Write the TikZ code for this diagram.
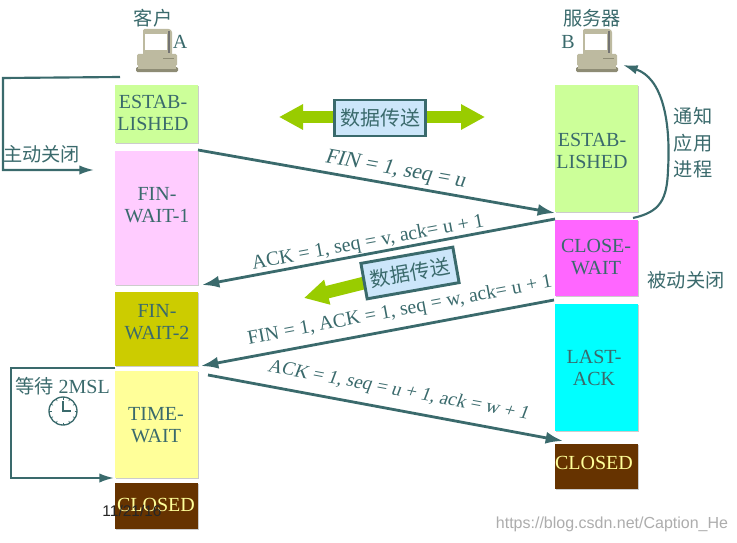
\documentclass[tikz,border=0pt]{standalone}
\usepackage{fontspec}
\setmainfont{Liberation Serif}
\setsansfont{Liberation Sans}
\newfontfamily\cjk{Noto Sans CJK SC}
\newfontfamily\slantfam[FakeSlant=0.18]{Liberation Serif}
\usetikzlibrary{arrows.meta,shadows}
\definecolor{ink}{HTML}{3A6A6C}
\definecolor{grn}{HTML}{99CC00}
\definecolor{estab}{HTML}{CCFF99}
\definecolor{finone}{HTML}{FFCCFF}
\definecolor{fintwo}{HTML}{CCCC00}
\definecolor{twait}{HTML}{FFFF99}
\definecolor{brownbox}{HTML}{663300}
\definecolor{cwait}{HTML}{FF66FF}
\definecolor{lack}{HTML}{00FFFF}
\definecolor{beige}{HTML}{BDBAA0}
\definecolor{beigedark}{HTML}{8E8C75}
\definecolor{paleblue}{HTML}{CCE6FA}
\tikzset{
 statebox/.style={minimum width=62.25pt,inner sep=0pt,drop shadow={shadow xshift=1pt,shadow yshift=-1pt,opacity=.2,fill=black}},
 statetext/.style={inner sep=0pt,align=center,text=ink,font=\fontsize{15}{16.8}\selectfont},
 msg/.style={draw=ink,line width=2.1pt,-{Latex[length=13pt,width=9pt]}},
 bent/.style={draw=ink,line width=1.6pt,-{Latex[length=11pt,width=7pt]}},
 lab/.style={text=ink,inner sep=0pt,font=\fontsize{15}{17}\selectfont},
 cjklab/.style={text=ink,inner sep=0pt,font=\cjk\fontsize{14.4}{18}\selectfont,align=center},
 databox/.style={draw=ink,line width=2.2pt,fill=paleblue,text=ink,inner sep=0pt,minimum width=68pt,minimum height=27pt,font=\cjk\fontsize{15}{17}\selectfont},
 greenarrow/.style={draw=grn,line width=9.5pt,-{Triangle[length=18pt,width=18pt]}},
}
\newcommand{\computer}[2]{%
 \begin{scope}[shift={(#1,#2)}]
  \fill[beige,rounded corners=1pt] (-14,-21)--(13,-21)--(15,-19)--(15,6)--(-14,6)--cycle;
  \fill[white] (-12,-16) rectangle (10,0);
  \draw[black!55,line width=.8pt] (12,-19)--(12,3);
  \fill[beige,rounded corners=1pt] (-20,4) rectangle (20,16);
  \draw[beigedark,line width=.7pt] (6,8)--(17,8);
  \fill[beigedark,rounded corners=1pt] (-21,17) rectangle (21,22);
  \fill[beige] (-19,16) rectangle (19,19);
 \end{scope}}
\begin{document}
\begin{tikzpicture}[x=0.75pt,y=-0.75pt]
\useasboundingbox (0,0) rectangle (737,542);
\fill[white] (0,0) rectangle (737,542);
\computer{157}{50}
\computer{597}{50}
\node[cjklab] (client) at (153,18) {客户};
\node[lab] (a) at (180,42) {A};
\node[cjklab] (server) at (592,18) {服务器};
\node[lab] (b) at (568,42) {B};
% client states
\node[statebox,fill=estab,minimum height=43.5pt] (e1) at (156.5,114) {};
\node[statebox,fill=finone,minimum height=100.5pt] (f1) at (156.5,218) {};
\node[statebox,fill=fintwo,minimum height=55.5pt] (f2) at (156.5,329) {};
\node[statebox,fill=twait,minimum height=80.25pt] (tw) at (156.5,424.5) {};
\node[statebox,fill=brownbox,minimum height=34.5pt] (c1) at (156.5,506) {};
\node[statetext] (e1t) at (153,113) {ESTAB-\\LISHED};
\node[statetext] (f1t) at (157,205) {FIN-\\WAIT-1};
\node[statetext] (f2t) at (157,322) {FIN-\\WAIT-2};
\node[statetext] (twt) at (156,425) {TIME-\\WAIT};
\node[statetext,text=twait] (c1t) at (156,505) {CLOSED};
% server states
\node[statebox,fill=estab,minimum height=95.25pt] (e2) at (596.5,148.5) {};
\node[statebox,fill=cwait,minimum height=57pt] (cw) at (596.5,258) {};
\node[statebox,fill=lack,minimum height=95.25pt] (la) at (596.5,367.5) {};
\node[statebox,fill=brownbox,minimum height=33.75pt] (c2) at (596.5,466.5) {};
\node[statetext] (e2t) at (592,151) {ESTAB-\\LISHED};
\node[statetext] (cwt) at (596,257) {CLOSE-\\WAIT};
\node[statetext] (lat) at (594,368) {LAST-\\ACK};
\node[statetext,text=twait] (c2t) at (594,463) {CLOSED};
% message ends
\coordinate (m1s) at (198,150); \coordinate (m1e) at (555,213);
\coordinate (m2s) at (555,219); \coordinate (m2e) at (202,285);
\coordinate (m3s) at (554,300); \coordinate (m3e) at (201,366);
\coordinate (m4s) at (208,375); \coordinate (m4e) at (563,441);
\draw[msg] (m1s) -- (m1e);
\draw[msg] (m2s) -- (m2e);
\draw[msg] (m3s) -- (m3e);
\draw[msg] (m4s) -- (m4e);
\node[lab,rotate=-10,font=\slantfam\fontsize{16.2}{18}\selectfont] (l1) at (395,170) {FIN = 1, seq = u};
\node[lab,rotate=10.5] (l2) at (368,243) {ACK = 1, seq = v, ack= u + 1};
\node[lab,rotate=10.7,font=\fontsize{14.8}{17}\selectfont] (l3) at (400,311) {FIN = 1, ACK = 1, seq = w, ack= u + 1};
\node[lab,rotate=-10.5,font=\slantfam\fontsize{14.3}{17}\selectfont] (l4) at (398,391) {ACK = 1, seq = u + 1, ack = w + 1};
% active close
\coordinate (acs) at (120,77); \coordinate (ac1) at (3,78); \coordinate (ac2) at (3,170); \coordinate (ace) at (94,170);
\draw[bent] (acs) -- (ac1) -- (ac2) -- (ace);
\node[cjklab,anchor=west] (act) at (3,154) {主动关闭};
% 2MSL
\coordinate (ws) at (115,368); \coordinate (w1) at (11,368); \coordinate (w2) at (11,478); \coordinate (we) at (114,478);
\draw[bent] (ws) -- (w1) -- (w2) -- (we);
\node[lab,anchor=west] (msl) at (15,386) {{\cjk\fontsize{14.4}{17}\selectfont 等待} 2MSL};
\node[draw=ink,line width=1pt,circle,minimum size=21pt,inner sep=0pt] (clock) at (63,411) {};
\draw[ink,line width=1.2pt] (63,401)--(clock.center)--(71,411);
\foreach \a in {0,30,...,330}{\draw[ink,line width=.5pt] (clock.center)++(\a:11.5) -- ++(\a:2.2);}
% notify
\coordinate (ns) at (633,218); \coordinate (ne) at (623,65);
\draw[bent] (ns) .. controls (660,212) and (667,200) .. (668,170) .. controls (671,120) and (662,78) .. (ne);
\node[cjklab] (notify) at (693,143) {通知\\[2pt]应用\\[2pt]进程};
\node[cjklab] (passive) at (686,280) {被动关闭};
% data transfer
\coordinate (d1) at (279,117); \coordinate (d2) at (485,117);
\draw[greenarrow,{Triangle[length=18pt,width=18pt]}-{Triangle[length=18pt,width=18pt]}] (d1) -- (d2);
\node[databox] (dt1) at (380,118) {数据传送};
\coordinate (d4) at (372,281); \coordinate (d3) at (304,298);
\draw[greenarrow] (d4) -- (d3);
\node[databox,rotate=10,minimum width=70pt] (dt2) at (410,273) {数据传送};
% footer
\node[inner sep=0pt,text=black!85,font=\sffamily\fontsize{11.6}{14}\selectfont] (date) at (132,511) {11/21/16};
\node[inner sep=0pt,text=black!32,font=\sffamily\fontsize{12}{14}\selectfont] (wm) at (612,524) {https://blog.csdn.net/Caption\_He};
\end{tikzpicture}
\end{document}
